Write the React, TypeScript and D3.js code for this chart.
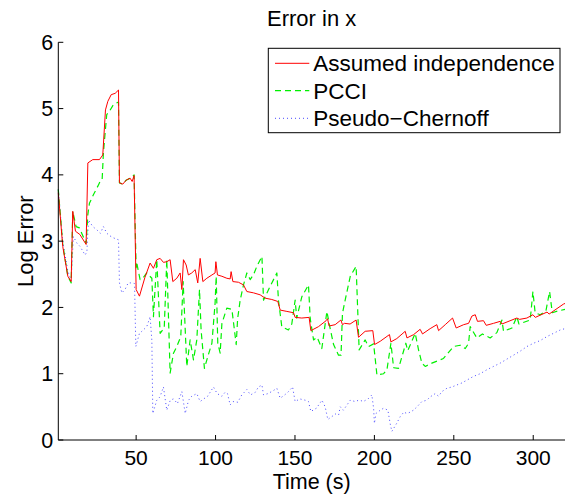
import React from "react";
import * as d3 from "d3";

const redT = [1,3.8,7,9.1,10.1,11.8,14.6,18.5,19.6,22.7,26.9,29,30.7,32.2,34.3,36.8,38.9,39.5,41.6,43.7,46.2,47.5,48.7,50,52.1,55.5,58.8,60.9,63,65.1,67.2,69.3,71.4,73.1,75.6,77.7,78.8,79.8,81.5,82.9,85,87.2,88.8,90.3,92,94.5,97.7,99.7,100.2,101.2,104,107.1,109.2,109.8,110.9,114.4,117.6,119.7,123.9,128.1,131.2,135.4,139.2,140.7,144.9,149.1,150.1,154.3,158.9,160,164.8,169.6,170.5,171.5,175.3,178.9,179.9,181.2,184.7,188.5,190,194.2,199,200.1,203.7,209.5,210.4,214.1,219.4,220.5,224.7,228.8,230.3,235.1,239.3,240.4,244.6,249.2,251.5,256.2,259.3,261.4,263.5,264.9,268.7,270.4,275,279.2,280.3,289.7,291.4,296,299.8,301.3,308.7,310,319,320];
const redV = [3.73,2.92,2.47,2.39,3.45,3.15,3.1,2.95,4.18,4.23,4.23,4.3,4.98,5.11,5.21,5.23,5.28,3.88,3.86,3.92,3.95,3.9,3.99,2.27,2.17,2.45,2.67,2.59,2.72,2.74,2.68,2.69,2.72,2.39,2.44,2.52,2.27,2.72,2.64,2.49,2.52,2.57,2.37,2.74,2.39,2.44,2.49,2.52,2.69,2.49,2.47,2.44,2.43,2.54,2.39,2.38,2.34,2.24,2.22,2.19,2.14,2.12,2.09,1.96,1.94,1.92,1.85,1.84,1.85,1.65,1.71,1.8,1.83,1.72,1.74,1.81,1.74,1.76,1.75,1.81,1.55,1.64,1.65,1.44,1.49,1.59,1.48,1.53,1.64,1.54,1.59,1.67,1.6,1.68,1.74,1.65,1.74,1.84,1.69,1.74,1.76,1.87,1.89,1.79,1.8,1.73,1.76,1.79,1.75,1.84,1.82,1.84,1.89,1.85,1.93,1.9,2.05,2.06];

const greenT = [1,3.8,7,9.1,10.1,12.2,14.3,18.5,19.6,20.6,23.1,25.9,27.3,28.6,29.4,30,31.5,33.2,35.7,38.9,39.5,41.6,43.7,46.2,48.7,50,50.4,52.5,54.5,56.7,59.9,60.9,63,65.1,67.7,69.3,71.4,73.5,75.6,78.1,79.6,81.9,84,86.1,88.2,89.9,90.9,93,95.5,97.7,99.7,100.4,101.4,102.9,104,107.1,110.3,113,113.9,115.5,117.6,119.7,121.8,124,126,129.2,130.2,132,134.4,138.6,139.6,141.7,145.9,148,150.1,151.1,154.3,158.5,159.6,161.7,164,166.9,170.1,172,174.3,177.4,179,179.9,181.6,184.8,188.5,190.4,194.2,196.3,199.5,200.5,201.6,205.8,207.9,210.4,212.1,215.2,219.8,221,225.7,227.8,229.9,232,236.2,243.5,249.8,254,257.2,259.3,260.3,264.5,268,272.9,277.1,280.3,281.3,286.6,289.7,291,298.1,299.8,301.2,304.4,308,310.3,312,316,320];
const greenV = [3.78,2.95,2.47,2.37,3.45,3.22,3.2,2.97,3.4,3.57,3.7,3.83,3.9,3.93,4.33,4.5,4.91,4.96,5.06,5.1,3.88,3.86,3.92,3.95,4.0,2.6,2.67,2.42,2.45,2.52,2.44,1.86,2.72,1.61,1.69,2.72,1.01,1.31,1.41,1.56,2.39,1.11,1.51,1.21,1.51,2.27,1.66,1.08,1.29,1.46,2.06,2.47,1.46,1.31,1.76,1.99,1.97,1.44,1.83,2.11,2.34,2.52,2.42,2.5,2.62,2.77,2.11,2.2,2.32,2.52,2.11,1.71,1.66,1.75,2.11,1.84,2.16,2.34,1.83,1.51,1.55,1.38,1.94,1.7,1.44,1.28,1.28,1.91,2.11,2.47,2.62,1.36,1.51,1.41,1.45,1.23,0.98,1.0,1.06,1.46,1.09,1.08,1.46,1.35,1.61,1.36,1.16,1.11,1.16,1.23,1.41,1.43,1.38,1.46,1.71,1.54,1.6,1.54,1.62,1.81,1.64,1.69,1.86,1.75,1.81,2.24,1.92,1.89,1.95,2.24,1.92,1.95,1.97];

const blueT = [1,3.8,7,9.1,10.5,12.7,14.7,17.9,19,20,22.7,25.3,27.5,29.4,31.5,33.5,35.7,38.9,39.5,41,43,45,47.3,49,49.8,52.1,53.6,56.7,58.8,59.9,60.5,63,65,67.2,69.3,71.5,73.5,76,78.8,80.9,83,85,88.2,90.3,92.5,95,98.7,101,104,106,107.5,109.2,111,114,116.5,119.7,122,125,127,129.2,130.2,133,136,138.6,140.7,143.5,145.5,148.5,150.1,153,156.5,158.5,160,163.5,167,169,170.7,173,176,177.5,178.5,180.5,182.5,184.8,188,190,191,193,196,198.4,199.5,200,201,203.7,205.8,208.5,209.9,211,212,214,216.2,218.5,220.5,222.5,224.6,226.8,229.9,233,235.1,238.3,240.4,242.5,245.6,248.8,251.9,255,258,262.4,266.6,270.8,275,279.2,283.4,287.6,291.8,296,300.2,304.4,308.6,312.8,317,320];
const blueV = [3.78,3.0,2.55,2.4,3.07,2.97,2.92,2.79,2.84,3.32,3.22,3.17,3.12,3.22,3.12,3.08,3.05,3.02,2.37,2.22,2.27,2.37,2.37,2.36,1.41,1.61,1.64,1.71,1.86,1.5,0.4,0.6,0.65,0.8,0.45,0.6,0.62,0.55,0.73,0.4,0.6,0.66,0.7,0.58,0.62,0.66,0.8,0.7,0.66,0.72,0.7,0.53,0.58,0.57,0.68,0.76,0.68,0.72,0.8,0.83,0.68,0.7,0.74,0.78,0.63,0.68,0.72,0.8,0.58,0.62,0.6,0.58,0.43,0.48,0.6,0.5,0.31,0.35,0.4,0.38,0.5,0.45,0.52,0.6,0.58,0.6,0.6,0.58,0.62,0.68,0.48,0.25,0.4,0.45,0.48,0.45,0.25,0.13,0.17,0.25,0.35,0.42,0.4,0.42,0.45,0.5,0.58,0.6,0.65,0.7,0.66,0.73,0.78,0.8,0.83,0.86,0.9,0.96,1.0,1.06,1.11,1.16,1.22,1.28,1.34,1.41,1.46,1.5,1.56,1.61,1.66,1.68];

const xTicks = [50, 100, 150, 200, 250, 300];
const yTicks = [0, 1, 2, 3, 4, 5, 6];
const seriesNames = ["Assumed independence", "PCCI", "Pseudo\u2212Chernoff"];
const titleText = "Error in x";
const xLabel = "Time (s)";
const yLabel = "Log Error";

const W = 570, H = 495;
const L = 58.3, R = 565, T = 42.3, B = 440;
const FONT = "'Liberation Sans', Arial, Helvetica, sans-serif";

export default function App() {
  const x = d3.scaleLinear().domain([1, 320]).range([L, R]);
  const y = d3.scaleLinear().domain([0, 6]).range([B, T]);
  const mk = (ts: number[], vs: number[]) =>
    d3.line<number>().x((_, i) => x(ts[i])).y((v) => y(v))(vs) || "";

  const series = [
    { name: seriesNames[0], d: mk(redT, redV), color: "#ff0000", dash: undefined as string | undefined, w: 1 },
    { name: seriesNames[1], d: mk(greenT, greenV), color: "#00f000", dash: "6,4", w: 1.2 },
    { name: seriesNames[2], d: mk(blueT, blueV), color: "#4848ff", dash: "1,3", w: 1 },
  ];
  const drawOrder = [series[2], series[1], series[0]];

  const lgX = 268.3, lgY = 48.3, lgW = 291.7, lgH = 84.4;
  const rowY = [63.3, 90.7, 118.3];

  return (
    <svg width={W} height={H} style={{ position: "absolute", left: 0, top: 0, background: "#fff" }} fontFamily={FONT}>
      <rect x={0} y={0} width={W} height={H} fill="#fff" />
      {drawOrder.map((s) => (
        <path key={s.name} d={s.d} fill="none" stroke={s.color} strokeWidth={s.w} strokeDasharray={s.dash} strokeLinejoin="round" />
      ))}
      <line x1={L} y1={T} x2={L} y2={B} stroke="#000" strokeWidth={1} />
      <line x1={L} y1={B} x2={R} y2={B} stroke="#000" strokeWidth={1} />
      {yTicks.map((t) => (
        <g key={"y" + t}>
          <line x1={L} x2={L + 5} y1={y(t)} y2={y(t)} stroke="#000" strokeWidth={1} />
          <text x={L - 5} y={y(t) + 7.5} textAnchor="end" fontSize={21.5} fill="#000">{t}</text>
        </g>
      ))}
      {xTicks.map((t) => (
        <g key={"x" + t}>
          <line x1={x(t)} x2={x(t)} y1={B} y2={B - 5} stroke="#000" strokeWidth={1} />
          <text x={x(t)} y={465} textAnchor="middle" fontSize={21} fill="#000">{t}</text>
        </g>
      ))}
      <text x={(L + R) / 2} y={489} textAnchor="middle" fontSize={21.5} fill="#000">{xLabel}</text>
      <text transform={`translate(33.3, ${(T + B) / 2}) rotate(-90)`} textAnchor="middle" fontSize={22} fill="#000">{yLabel}</text>
      <text x={(L + R) / 2} y={25.7} textAnchor="middle" fontSize={22} fill="#000">{titleText}</text>
      <rect x={lgX} y={lgY} width={lgW} height={lgH} fill="#fff" stroke="#000" strokeWidth={1} />
      {series.map((s, i) => (
        <g key={"lg" + i}>
          <line x1={275} x2={309.3} y1={rowY[i]} y2={rowY[i]} stroke={s.color} strokeWidth={s.w} strokeDasharray={s.dash} />
          <text x={313.3} y={rowY[i] + 8} fontSize={22.5} fill="#000">{s.name}</text>
        </g>
      ))}
    </svg>
  );
}
